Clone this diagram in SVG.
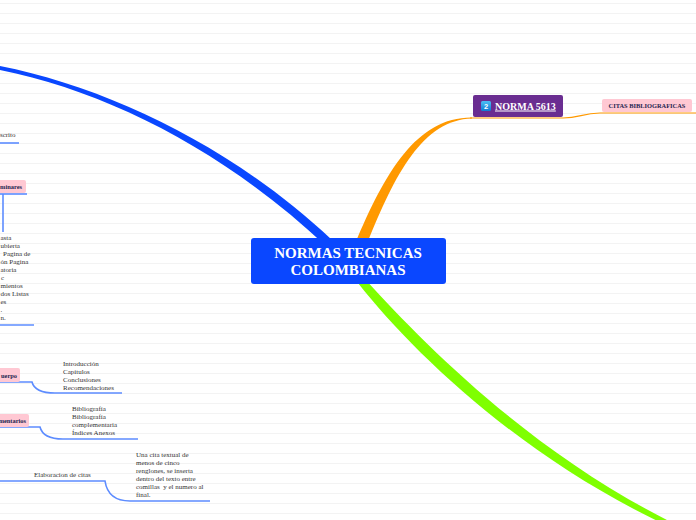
<svg xmlns="http://www.w3.org/2000/svg" width="696" height="520" viewBox="0 0 696 520">
<defs>
<pattern id="grid" x="0" y="3" width="696" height="10" patternUnits="userSpaceOnUse">
<rect x="0" y="0" width="696" height="1" fill="#f3f3f3"/>
</pattern>
<linearGradient id="badge" x1="0" y1="0" x2="0" y2="1">
<stop offset="0" stop-color="#4cc0f5"/>
<stop offset="1" stop-color="#0f7ad4"/>
</linearGradient>
<style>
.t{font-family:"Liberation Serif","Times New Roman",serif;font-size:7px;fill:#333333}
.pk{fill:#ffc8d3}
.pt{font-family:"Liberation Serif","Times New Roman",serif;font-size:6.4px;font-weight:bold;fill:#1d2450}
.ul{fill:none;stroke:#5d8cff;stroke-width:1.6}
</style>
</defs>
<rect width="696" height="520" fill="#ffffff"/>
<rect width="696" height="520" fill="url(#grid)"/>
<g id="connectors">
<path d="M0,66 C110,88 233,147 332,240 L326,246 C227,153 110,92 0,70 Z" fill="#0a47ff"/>
<path d="M355,244 C385,172 417,117 472,117.4 L472,118.6 C423,120 395,174 367,244 Z" fill="#ff9900"/>
<path d="M470,118 L563,118 C580,118 582,113 600,113 L696,113" fill="none" stroke="#ff9900" stroke-width="1.2"/>
<path d="M365,279 C426,346 533,455 681,527 L679,531 C527,463 414,354 358,283 Z" fill="#7fff00"/>
<path class="ul" d="M0,143 L19,143"/>
<path class="ul" d="M0,194 L27,194"/>
<path class="ul" d="M3,194 L3,232"/>
<path class="ul" d="M0,325 L34,325"/>
<path class="ul" d="M0,382 L32,382 C34,390 42,393 55,393 L122,393"/>
<path class="ul" d="M0,427 L40,427 C42,435 50,439 63,439 L138,439"/>
<path class="ul" d="M0,481 L105,481 C107,494 115,501 130,501 L210,501"/>
</g>
<g id="center">
<rect x="251" y="238" width="195" height="46" rx="3" fill="#0a47ff"/>
<text x="348" y="258" text-anchor="middle" font-family="Liberation Serif, Times New Roman, serif" font-size="15" font-weight="bold" fill="#ffffff">NORMAS TECNICAS</text>
<text x="348" y="275" text-anchor="middle" font-family="Liberation Serif, Times New Roman, serif" font-size="15" font-weight="bold" fill="#ffffff">COLOMBIANAS</text>
</g>
<g id="norma5613">
<rect x="473" y="95" width="90" height="22" rx="2" fill="#6a2d91"/>
<rect x="481" y="101" width="10" height="10" rx="1.5" fill="url(#badge)"/>
<text x="486" y="109" text-anchor="middle" font-family="Liberation Sans, Arial, sans-serif" font-size="7.5" font-weight="bold" fill="#ffffff">2</text>
<text x="495" y="109.5" font-family="Liberation Serif, Times New Roman, serif" font-size="10" font-weight="bold" fill="#ffffff" text-decoration="underline">NORMA 5613</text>
</g>
<g id="citas">
<rect class="pk" x="602" y="99" width="90" height="13" rx="2"/>
<text class="pt" x="647" y="107.5" text-anchor="middle">CITAS BIBLIOGRAFICAS</text>
</g>
<g id="escrito">
<text class="t" x="15.5" y="137" text-anchor="end">scrito</text>
</g>
<g id="preliminares">
<rect class="pk" x="-3" y="180" width="29" height="13" rx="2"/>
<text class="pt" x="22" y="189" text-anchor="end">minares</text>
</g>
<g id="lista-preliminares">
<text class="t" x="0.5" y="240">asta</text>
<text class="t" x="0.5" y="248">ubierta</text>
<text class="t" x="3" y="256">Pagina de</text>
<text class="t" x="0.5" y="264">ón Pagina</text>
<text class="t" x="0.5" y="272">atoria</text>
<text class="t" x="1" y="280">c</text>
<text class="t" x="0.5" y="288">mientos</text>
<text class="t" x="0.5" y="296">dos Listas</text>
<text class="t" x="0.5" y="304">es</text>
<text class="t" x="0.5" y="312">.</text>
<text class="t" x="0.5" y="320">n.</text>
</g>
<g id="cuerpo">
<rect class="pk" x="-3" y="368" width="23" height="14" rx="2"/>
<text class="pt" x="17" y="377.5" text-anchor="end">uerpo</text>
</g>
<g id="lista-cuerpo">
<text class="t" x="63" y="365.5">Introducción</text>
<text class="t" x="63" y="373.5">Capítulos</text>
<text class="t" x="63" y="381.5">Conclusiones</text>
<text class="t" x="63" y="389.5">Recomendaciones</text>
</g>
<g id="complementarios">
<rect class="pk" x="-3" y="414" width="32" height="13" rx="2"/>
<text class="pt" x="26" y="423" text-anchor="end">mentarios</text>
</g>
<g id="lista-complementarios">
<text class="t" x="72" y="410.5">Bibliografía</text>
<text class="t" x="72" y="418.5">Bibliografía</text>
<text class="t" x="72" y="426.5">complementaria</text>
<text class="t" x="72" y="434.5">Índices Anexos</text>
</g>
<g id="elaboracion">
<text class="t" x="34" y="476.5">Elaboracion de citas</text>
</g>
<g id="cita-textual">
<text class="t" x="136" y="456.5">Una cita textual de</text>
<text class="t" x="136" y="464.5">menos de cinco</text>
<text class="t" x="136" y="472.5">renglones, se inserta</text>
<text class="t" x="136" y="480.5">dentro del texto entre</text>
<text class="t" x="136" y="488.5" xml:space="preserve">comillas  y el numero al</text>
<text class="t" x="136" y="496.5">final.</text>
</g>
</svg>
